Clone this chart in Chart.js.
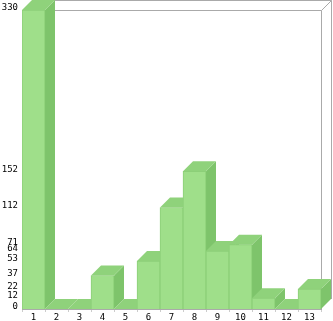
<!DOCTYPE html>
<html>
<head>
  <script src="https://cdn.jsdelivr.net/npm/chart.js"></script>
  <style>
    body { margin: 0; background: #fff; }
    #wrap { width: 333px; height: 321px; }
  </style>
</head>
<body>
  <div id="wrap"><canvas id="bars" width="333" height="321"></canvas></div>
  <script>
    // data
    const categories = ['1', '2', '3', '4', '5', '6', '7', '8', '9', '10', '11', '12', '13'];
    const counts = [330, 0, 0, 37, 0, 53, 112, 152, 64, 71, 12, 0, 22];
    const yTicks = [0, 12, 22, 37, 53, 64, 71, 112, 152, 330];

    const DEPTH = 10;
    const frontColor = '#9fdf8a';
    const topColor = '#8fd27b';
    const sideColor = '#7ec46b';
    const frameColor = '#aaaaaa';

    function poly(ctx, pts, fill) {
      ctx.beginPath();
      ctx.moveTo(pts[0][0], pts[0][1]);
      for (let i = 1; i < pts.length; i++) ctx.lineTo(pts[i][0], pts[i][1]);
      ctx.closePath();
      ctx.fillStyle = fill;
      ctx.fill();
    }

    // back box + side/top faces of each bar, drawn before the front faces
    const box3d = {
      id: 'box3d',
      beforeDatasetsDraw(chart) {
        const ctx = chart.ctx;
        const a = chart.chartArea;
        ctx.save();
        ctx.strokeStyle = frameColor;
        ctx.lineWidth = 1;
        ctx.beginPath();
        ctx.moveTo(a.left, a.top + 0.5);
        ctx.lineTo(a.right + 0.5, a.top + 0.5);
        ctx.lineTo(a.right + 0.5, a.bottom);
        ctx.moveTo(a.left + DEPTH, a.top - DEPTH + 0.5);
        ctx.lineTo(a.right + DEPTH + 0.5, a.top - DEPTH + 0.5);
        ctx.lineTo(a.right + DEPTH + 0.5, a.bottom - DEPTH);
        ctx.moveTo(a.right + 0.5, a.top + 0.5);
        ctx.lineTo(a.right + DEPTH + 0.5, a.top - DEPTH + 0.5);
        ctx.stroke();

        const meta = chart.getDatasetMeta(0);
        meta.data.forEach(bar => {
          const p = bar.getProps(['x', 'y', 'base', 'width'], true);
          const l = p.x - p.width / 2;
          const r = p.x + p.width / 2;
          poly(ctx, [[r, p.y], [r + DEPTH, p.y - DEPTH], [r + DEPTH, p.base - DEPTH], [r, p.base]], sideColor);
          poly(ctx, [[l, p.y], [r, p.y], [r + DEPTH, p.y - DEPTH], [l + DEPTH, p.y - DEPTH]], topColor);
        });
        ctx.restore();
      }
    };

    const ctx = document.getElementById('bars').getContext('2d');
    new Chart(ctx, {
      type: 'bar',
      data: {
        labels: categories,
        datasets: [{
          data: counts,
          backgroundColor: frontColor,
          borderColor: '#8ccf78',
          borderWidth: 1,
          barPercentage: 1,
          categoryPercentage: 1
        }]
      },
      options: {
        responsive: false,
        animation: false,
        layout: { padding: { top: 10, right: 12, left: 0, bottom: 0 } },
        plugins: { legend: { display: false }, tooltip: { enabled: false } },
        scales: {
          x: {
            grid: { drawOnChartArea: false, tickLength: 3, color: '#cccccc', offset: true },
            border: { color: frameColor },
            ticks: { color: '#000', padding: 0, font: { family: 'DejaVu Sans Mono', size: 9 }, maxRotation: 0 },
            afterFit: s => { s.height = 12; }
          },
          y: {
            min: 0,
            max: 330,
            afterBuildTicks: s => { s.ticks = yTicks.map(v => ({ value: v })); },
            grid: { display: false, drawTicks: false },
            border: { color: frameColor },
            ticks: { color: '#000', padding: 4, labelOffset: -2, autoSkip: false, font: { family: 'DejaVu Sans Mono', size: 9 } },
            afterFit: s => { s.width = 22; }
          }
        }
      },
      plugins: [box3d]
    });
  </script>
</body>
</html>
